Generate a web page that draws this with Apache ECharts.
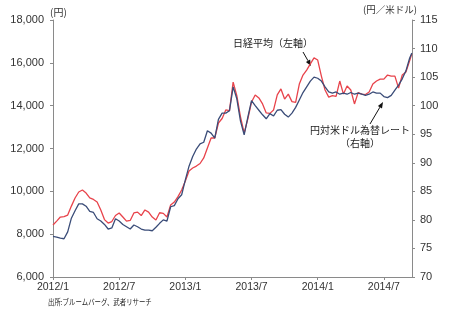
<!DOCTYPE html>
<html>
<head>
<meta charset="utf-8">
<script src="https://cdn.jsdelivr.net/npm/echarts@6/dist/echarts.min.js"></script>
<style>
html,body{margin:0;padding:0;background:#fff}
#chart{width:450px;height:323px}
</style>
</head>
<body>
<div id="chart"></div>
<script>
// Observation dates (roughly every ten days)
const dates = [
  '2012/1/1','2012/1/11','2012/1/21','2012/2/1','2012/2/11','2012/2/21','2012/3/1','2012/3/11','2012/3/21',
  '2012/4/1','2012/4/11','2012/4/21','2012/5/1','2012/5/11','2012/5/21','2012/6/1','2012/6/11','2012/6/21',
  '2012/7/1','2012/7/11','2012/7/21','2012/8/1','2012/8/11','2012/8/21','2012/9/1','2012/9/11','2012/9/21',
  '2012/10/1','2012/10/11','2012/10/21','2012/11/1','2012/11/11','2012/11/21','2012/12/1','2012/12/11','2012/12/21',
  '2013/1/1','2013/1/11','2013/1/21','2013/2/1','2013/2/11','2013/2/21','2013/3/1','2013/3/11','2013/3/21',
  '2013/4/1','2013/4/11','2013/4/21','2013/5/1','2013/5/11','2013/5/21','2013/6/1','2013/6/11','2013/6/21',
  '2013/7/1','2013/7/11','2013/7/21','2013/8/1','2013/8/11','2013/8/21','2013/9/1','2013/9/11','2013/9/21',
  '2013/10/1','2013/10/11','2013/10/21','2013/11/1','2013/11/11','2013/11/21','2013/12/1','2013/12/11','2013/12/21',
  '2014/1/1','2014/1/11','2014/1/21','2014/2/1','2014/2/11','2014/2/21','2014/3/1','2014/3/11','2014/3/21',
  '2014/4/1','2014/4/11','2014/4/21','2014/5/1','2014/5/11','2014/5/21','2014/6/1','2014/6/11','2014/6/21',
  '2014/7/1','2014/7/11','2014/7/21','2014/8/1','2014/8/11','2014/8/21','2014/9/1','2014/9/11','2014/9/17'
];

// Nikkei 225 average (yen, left axis)
const nikkei = [
  8430, 8610, 8800, 8820, 8890, 9310, 9690, 9970, 10060, 9920,
  9690, 9620, 9500, 9130, 8680, 8520, 8590, 8870, 8990, 8800,
  8610, 8640, 8990, 9030, 8870, 9130, 9030, 8800, 8660, 9000,
  8970, 8800, 9360, 9500, 9750, 10060, 10480, 10950, 11090, 11180,
  11300, 11560, 12020, 12490, 12490, 13190, 13400, 13800, 13770, 15100,
  14470, 13470, 12720, 13380, 14170, 14500, 14360, 14080, 13660, 13640,
  13800, 14500, 14780, 14310, 14540, 14190, 14150, 15010, 15430, 15660,
  15950, 16230, 16130, 15380, 14730, 14400, 14470, 14430, 15150, 14540,
  14920, 14730, 14080, 14610, 14540, 14520, 14640, 15010, 15150, 15240,
  15240, 15430, 15380, 15380, 14820, 15430, 15570, 16090, 16420
];

// Yen per US dollar (right axis)
const usdjpy = [
  77.1, 77.0, 76.8, 76.7, 77.9, 80.3, 81.6, 82.8, 82.8, 82.4,
  81.5, 81.3, 80.2, 79.8, 79.2, 78.4, 78.6, 80.2, 79.8, 79.2,
  78.8, 78.4, 79.1, 78.8, 78.4, 78.2, 78.2, 78.1, 78.7, 79.4,
  80.0, 79.8, 82.3, 82.5, 83.7, 84.4, 87.0, 89.4, 91.1, 92.4,
  93.3, 93.6, 95.6, 95.2, 94.3, 97.6, 98.7, 98.7, 99.1, 103.3,
  101.2, 97.3, 94.9, 98.0, 100.9, 100.0, 99.2, 98.4, 97.7, 98.6,
  98.2, 99.2, 99.3, 98.5, 98.0, 98.7, 99.7, 101.0, 102.3, 103.3,
  104.3, 105.0, 104.8, 104.3, 103.3, 102.4, 102.2, 102.4, 102.0, 102.2,
  102.0, 102.3, 102.0, 102.2, 102.0, 101.8, 102.0, 102.4, 102.2, 102.2,
  101.6, 101.4, 101.8, 102.7, 103.6, 104.7, 106.1, 108.3, 109.2
];

// Axis settings
const leftTicks = { min: 6000, max: 18000, step: 2000 };
const rightTicks = { min: 70, max: 115, step: 5 };
const monthTicks = { min: 0, max: 32.55, step: 6 };   // months since 2012/1

// months elapsed since 2012/1/1
function monthOffset(s) {
  const p = s.split('/').map(Number);
  return (p[0] - 2012) * 12 + (p[1] - 1) + (p[2] - 1) / 30;
}
function monthLabel(v) {
  const y = 2012 + Math.floor(v / 12);
  const m = Math.round(v - (y - 2012) * 12) + 1;
  return y + '/' + m;
}

const NUM_FONT = 'Liberation Sans, Arial, sans-serif';
const JP_FONT = 'Noto Sans CJK JP, sans-serif';
const AXIS_COLOR = '#8a8a8a';
const LABEL_COLOR = '#333';

const chart = echarts.init(document.getElementById('chart'), null, { renderer: 'canvas' });

function arrow(x1, y1, x2, y2) {
  const dx = x2 - x1, dy = y2 - y1, len = Math.sqrt(dx * dx + dy * dy);
  const ux = dx / len, uy = dy / len;
  const bx = x2 - ux * 6, by = y2 - uy * 6;
  const px = -uy * 2.4, py = ux * 2.4;
  return [
    { type: 'line', shape: { x1: x1, y1: y1, x2: bx, y2: by }, style: { stroke: '#111', lineWidth: 1 } },
    { type: 'polygon', shape: { points: [[x2, y2], [bx + px, by + py], [bx - px, by - py]] }, style: { fill: '#111' } }
  ];
}

const option = {
  animation: false,
  backgroundColor: '#fff',
  grid: { left: 53, right: 38, top: 20, bottom: 46 },
  xAxis: {
    type: 'value',
    min: monthTicks.min,
    max: monthTicks.max,
    interval: monthTicks.step,
    axisLine: { lineStyle: { color: AXIS_COLOR, width: 1 } },
    axisTick: { show: true, length: 3, lineStyle: { color: AXIS_COLOR } },
    splitLine: { show: false },
    axisLabel: {
      formatter: monthLabel,
      showMaxLabel: false,
      color: LABEL_COLOR,
      fontFamily: NUM_FONT,
      fontSize: 10.5,
      margin: 5
    }
  },
  yAxis: [
    {
      type: 'value',
      position: 'left',
      min: leftTicks.min,
      max: leftTicks.max,
      interval: leftTicks.step,
      axisLine: { show: true, lineStyle: { color: AXIS_COLOR, width: 1 } },
      axisTick: { show: true, length: 3, lineStyle: { color: AXIS_COLOR } },
      splitLine: { show: false },
      axisLabel: {
        formatter: v => v.toLocaleString('en-US'),
        color: LABEL_COLOR,
        fontFamily: NUM_FONT,
        fontSize: 11,
        margin: 9
      }
    },
    {
      type: 'value',
      position: 'right',
      min: rightTicks.min,
      max: rightTicks.max,
      interval: rightTicks.step,
      axisLine: { show: true, lineStyle: { color: AXIS_COLOR, width: 1 } },
      axisTick: { show: true, length: 3, lineStyle: { color: AXIS_COLOR } },
      splitLine: { show: false },
      axisLabel: {
        color: LABEL_COLOR,
        fontFamily: NUM_FONT,
        fontSize: 11,
        margin: 8
      }
    }
  ],
  series: [
    {
      name: '日経平均',
      type: 'line',
      yAxisIndex: 0,
      showSymbol: false,
      data: dates.map((d, i) => [monthOffset(d), nikkei[i]]),
      lineStyle: { color: '#e8434b', width: 1.3 },
      itemStyle: { color: '#e8434b' },
      z: 2
    },
    {
      name: '円対米ドル為替レート',
      type: 'line',
      yAxisIndex: 1,
      showSymbol: false,
      data: dates.map((d, i) => [monthOffset(d), usdjpy[i]]),
      lineStyle: { color: '#3a4c78', width: 1.3 },
      itemStyle: { color: '#3a4c78' },
      z: 3
    }
  ],
  graphic: [
    // axis units
    { type: 'text', left: 50, top: 7, style: { text: '(円)', font: '10px ' + JP_FONT, fill: LABEL_COLOR } },
    { type: 'text', right: 33, top: 5, style: { text: '(円／米ドル)', font: '9.5px ' + JP_FONT, fill: LABEL_COLOR } },
    // series notes
    { type: 'text', x: 273, y: 43, style: { text: '日経平均（左軸）', font: '10px ' + JP_FONT, fill: '#222', align: 'center', verticalAlign: 'middle' } },
    ...arrow(303, 52, 311, 66),
    { type: 'text', x: 360, y: 130, style: { text: '円対米ドル為替レート', font: '10px ' + JP_FONT, fill: '#222', align: 'center', verticalAlign: 'middle' } },
    { type: 'text', x: 360, y: 143.5, style: { text: '（右軸）', font: '10px ' + JP_FONT, fill: '#222', align: 'center', verticalAlign: 'middle' } },
    ...arrow(370, 124, 383, 102),
    // source
    { type: 'text', x: 48, y: 302, scaleX: 0.8, style: { text: '出所:ブルームバーグ、武者リサーチ', font: '8px ' + JP_FONT, fill: '#222', verticalAlign: 'middle' } }
  ]
};

chart.setOption(option);
</script>
</body>
</html>
